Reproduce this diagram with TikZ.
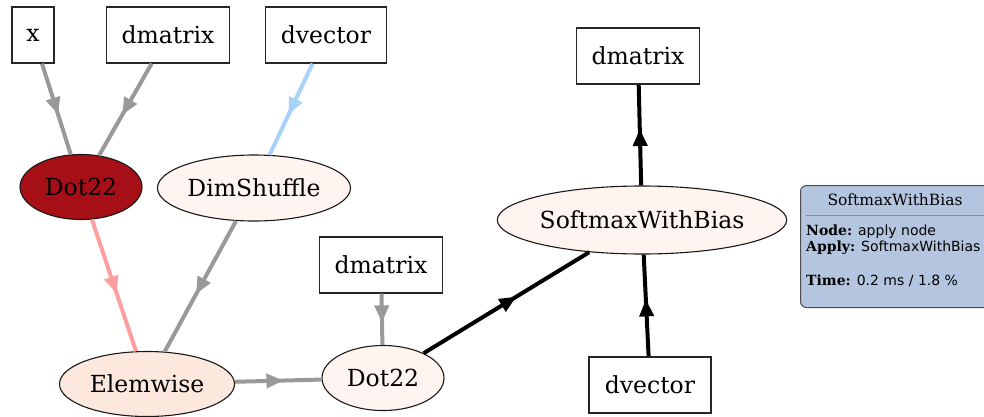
\documentclass[tikz,border=0pt]{standalone}
\usepackage{fontspec}
\setmainfont{DejaVu Serif}
\newfontfamily\tipsans{DejaVu Sans}
\usetikzlibrary{arrows.meta,decorations.markings,shapes.geometric}

\definecolor{edgegrey}{HTML}{999999}
\definecolor{edgeblue}{HTML}{A8D2FA}
\definecolor{edgepink}{HTML}{FF9E9E}
\definecolor{hotred}{HTML}{A50F15}
\definecolor{palered}{HTML}{FFF4EF}
\definecolor{warmred}{HTML}{FDE8DE}
\definecolor{tipblue}{HTML}{B4C6DF}

\tikzset{
    varbox/.style={draw=black!85, fill=white, line width=1.2pt, minimum height=56pt,
        inner sep=0pt, font=\fontsize{23.5}{28}\selectfont},
    applynode/.style={ellipse, draw=black!90, line width=1.1pt, inner sep=0pt,
        font=\fontsize{23.5}{28}\selectfont},
    flow/.style={line width=4pt, postaction={decorate},
        decoration={markings, mark=at position 0.56 with {\arrow{Triangle[length=17pt,width=14pt]}}}},
    tiptext/.style={anchor=west, inner sep=0pt, font=\fontsize{14}{17}\selectfont},
}

\begin{document}
\begin{tikzpicture}[x=1pt,y=-1pt]
    \useasboundingbox (0,0) rectangle (984,416);

    % inputs
    \node[varbox, minimum width=42pt]  (x)    at (33,35)  {x};
    \node[varbox, minimum width=123pt] (mat1) at (168,35) {dmatrix};
    \node[varbox, minimum width=121pt] (vec1) at (326,35) {dvector};
    \node[varbox, minimum width=123pt] (mat2) at (381,265) {dmatrix};
    \node[varbox, minimum width=122pt] (vec2) at (650,385) {dvector};
    \node[varbox, minimum width=123pt] (out)  at (638,56)  {dmatrix};

    % apply nodes
    \node[applynode, fill=hotred, minimum width=122pt, minimum height=65pt] (dot1) at (81,187) {Dot22};
    \node[applynode, fill=palered, minimum width=193pt, minimum height=66pt] (shuf) at (254,188) {DimShuffle};
    \node[applynode, fill=warmred, minimum width=175pt, minimum height=65pt] (elem) at (147,384) {Elemwise};
    \node[applynode, fill=palered, minimum width=122pt, minimum height=65pt] (dot2) at (383,378) {Dot22};
    \node[applynode, fill=palered, minimum width=281pt, minimum height=68pt] (soft) at (642,220) {SoftmaxWithBias};

    % edges
    \draw[flow, color=edgegrey] (x) -- (dot1);
    \draw[flow, color=edgegrey] (mat1) -- (dot1);
    \draw[flow, color=edgeblue] (vec1) -- (shuf);
    \draw[flow, color=edgepink] (dot1) -- (elem);
    \draw[flow, color=edgegrey] (shuf) -- (elem);
    \draw[flow, color=edgegrey] (mat2) -- (dot2);
    \draw[flow, color=edgegrey] (elem) -- (dot2);
    \draw[flow, color=black] (dot2) -- (soft);
    \draw[flow, color=black] (soft) -- (out);
    \draw[flow, color=black] (vec2) -- (soft);

    % tooltip
    \node[draw=black!70, fill=tipblue, line width=1pt, rounded corners=6pt, anchor=north west,
        minimum width=200pt, minimum height=122pt, inner sep=0pt] (tip) at (800,185) {};
    \node[inner sep=0pt, font=\fontsize{15.5}{18}\selectfont] (tiptitle) at (895,200) {SoftmaxWithBias};
    \draw[black!45, line width=1pt] (806,215) -- (984,215);
    \node[tiptext] (tipnode)  at (806,232) {\textbf{Node:} {\tipsans apply node}};
    \node[tiptext] (tipapply) at (806,248) {\textbf{Apply:} {\tipsans SoftmaxWithBias}};
    \node[tiptext] (tiptime)  at (806,281) {\textbf{Time:} {\tipsans 0.2 ms / 1.8 \%}};
\end{tikzpicture}
\end{document}
